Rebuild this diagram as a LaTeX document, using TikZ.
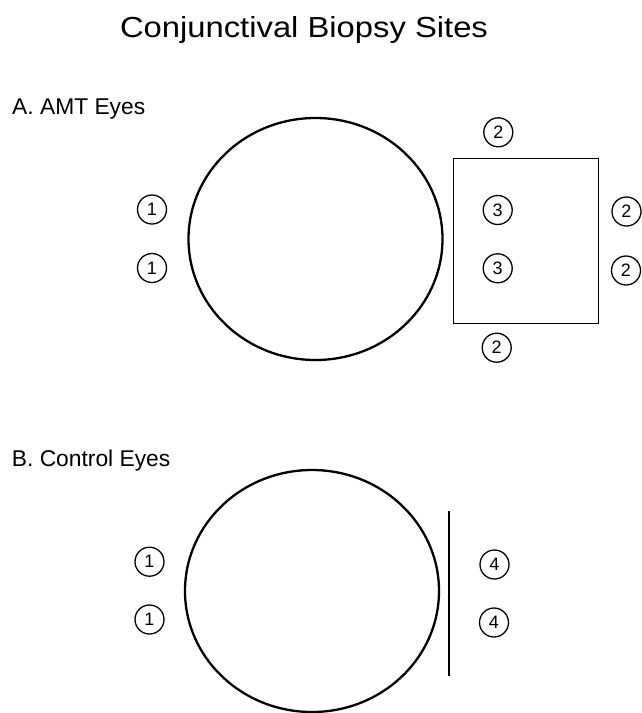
\documentclass[tikz,border=0pt]{standalone}
\usepackage{fontspec}
\setmainfont{Liberation Sans}
\usetikzlibrary{shapes.geometric}
\begin{document}
\begin{tikzpicture}[x=1pt,y=-1pt,
  site/.style={draw, circle, line width=1.3pt, minimum size=29pt, inner sep=0pt, font=\fontsize{18}{18}\selectfont},
  eye/.style={draw, ellipse, line width=2.3pt, minimum width=254pt, minimum height=242pt, inner sep=0pt},
  thinline/.style={line width=1.2pt},
  heading/.style={anchor=base west, inner sep=0pt, font=\fontsize{22.8}{24}\selectfont}]
\path[use as bounding box] (0,0) rectangle (642,713);
% title
\node[anchor=base, inner sep=0pt, font=\fontsize{29}{32}\selectfont] (title) at (304,37.3) {\scalebox{1.13}[1]{Conjunctival Biopsy Sites}};
% section A
\node[heading] (labA) at (12,114) {A. AMT Eyes};
\node[eye] (eyeA) at (315.5,239) {};
\node[draw, rectangle, thinline, minimum width=145pt, minimum height=164.7pt, inner sep=0pt] (graft) at (526.3,241.2) {};
\node[site] (a1) at (152,209.5) {1};
\node[site] (a2) at (152,268) {1};
\node[site] (a3) at (497.7,210) {3};
\node[site] (a4) at (497.7,268.3) {3};
\node[site] (a5) at (498.3,132.3) {2};
\node[site] (a6) at (496.7,347.7) {2};
\node[site] (a7) at (626.5,211.5) {2};
\node[site] (a8) at (626,270.5) {2};
% section B
\node[heading] (labB) at (11.7,466.7) {B. Control Eyes};
\node[eye] (eyeB) at (312,591) {};
\coordinate (ltop) at (449,510.7);
\coordinate (lbot) at (449,676);
\draw[thinline] (ltop) -- (lbot);
\node[site] (b1) at (149.5,561.7) {1};
\node[site] (b2) at (149.5,619.5) {1};
\node[site] (b3) at (494.5,564.5) {4};
\node[site] (b4) at (494,622.5) {4};
\end{tikzpicture}
\end{document}
